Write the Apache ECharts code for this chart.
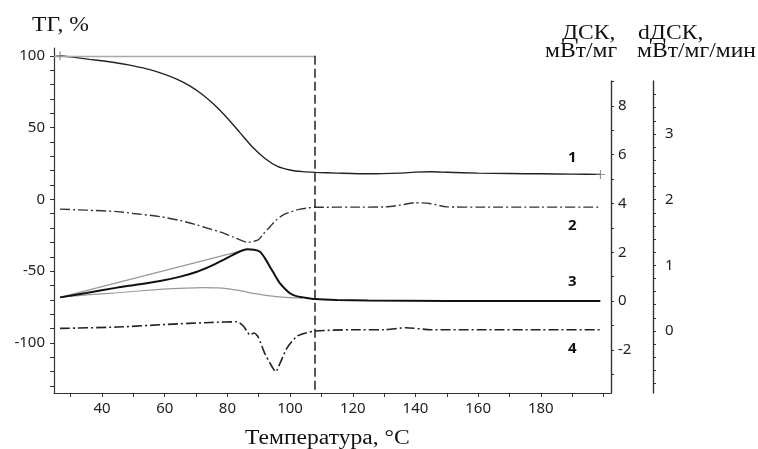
<!DOCTYPE html>
<html>
<head>
<meta charset="utf-8">
<style>
  html, body { margin: 0; padding: 0; background: #fff; }
  #chart { width: 758px; height: 449px; }
</style>
<script src="https://cdn.jsdelivr.net/npm/echarts@6/dist/echarts.min.js"></script>
</head>
<body>
<div id="chart"></div>
<script>
// curve 1 - TG, %
const tgTemp = [26.6, 30, 36, 40, 46.8, 50, 55, 60, 64, 68, 72, 76, 80, 84, 88, 92, 96, 100, 104, 108, 115, 125, 135, 140, 145, 150, 160, 170, 180, 190, 199]
const tgVal = [100, 99.2, 97.5, 96.5, 94.3, 93, 90.5, 87, 83.5, 79, 73, 65.5, 56.5, 46.5, 36.5, 28.5, 23, 20.5, 19.3, 18.8, 18.3, 17.8, 18.3, 19, 19.2, 18.9, 18.3, 18, 17.8, 17.6, 17.4]

// curve 2 - DTG (drawn on TG scale)
const dtgTemp = [26.6, 35, 44.8, 50, 58.5, 65, 70.3, 74, 78.6, 82, 86.3, 89.8, 91.5, 93.6, 95.5, 97.8, 100.5, 103.2, 108, 120, 130, 135, 140, 145, 150, 160, 180, 199]
const dtgVal = [-6.8, -7.5, -8.5, -9.8, -12, -14.8, -17.8, -20.3, -23.3, -26.3, -29.8, -28.2, -24, -19, -14.5, -10.8, -8.5, -6.8, -5.5, -5.4, -5.3, -4, -2.3, -3, -5.2, -5.4, -5.4, -5.4]

// curve 3 - DSC, mW/mg
const dscTemp = [26.6, 35, 44.8, 50, 58.5, 65, 70.3, 75, 78.6, 83.1, 86.3, 88.5, 90.4, 92, 93.6, 95.2, 96.8, 98.5, 100, 102, 104.2, 108, 115, 125, 150, 199]
const dscVal = [0.15, 0.33, 0.55, 0.65, 0.82, 1.0, 1.2, 1.45, 1.68, 1.98, 2.12, 2.1, 2.02, 1.75, 1.4, 1.05, 0.72, 0.48, 0.31, 0.2, 0.15, 0.08, 0.04, 0.02, 0, 0]

// grey construction lines on DSC
const tangentTemp = [26.6, 86.3]
const tangentVal = [0.15, 2.12]
const baseTemp = [26.6, 35, 44.8, 58.5, 65, 72, 77, 83.1, 89.3, 95.7, 100, 104.2]
const baseVal = [0.15, 0.25, 0.34, 0.48, 0.52, 0.55, 0.54, 0.45, 0.29, 0.18, 0.14, 0.12]

// curve 4 - dDSC, mW/mg/min
const ddscTemp = [26.6, 44.8, 60.7, 74.5, 83.1, 85.0, 86.2, 87.2, 88.5, 89.8, 91.9, 94.2, 95.4, 96.8, 99, 102.2, 105, 108, 120, 130, 137, 145, 160, 180, 199]
const ddscVal = [0.04, 0.06, 0.1, 0.13, 0.14, 0.08, 0.0, -0.06, -0.03, -0.09, -0.34, -0.54, -0.62, -0.49, -0.26, -0.08, -0.03, 0.0, 0.02, 0.02, 0.05, 0.02, 0.02, 0.02, 0.02]

const endTemp = 108

const xLabels = [40, 60, 80, 100, 120, 140, 160, 180]
const xTicks = [30, 40, 50, 60, 70, 80, 90, 100, 110, 120, 130, 140, 150, 160, 170, 180, 190, 200]
const tgLabels = [-100, -50, 0, 50, 100]
const tgTicks = [-130, -120, -110, -100, -90, -80, -70, -60, -50, -40, -30, -20, -10, 0, 10, 20, 30, 40, 50, 60, 70, 80, 90, 100]
const dscLabels = [-2, 0, 2, 4, 6, 8]
const dscTicks = [-3, -2, -1, 0, 1, 2, 3, 4, 5, 6, 7, 8, 9]
const ddscLabels = [0, 1, 2, 3]
const ddscTicks = [-0.8, -0.6, -0.4, -0.2, 0, 0.2, 0.4, 0.6, 0.8, 1, 1.2, 1.4, 1.6, 1.8, 2, 2.2, 2.4, 2.6, 2.8, 3, 3.2, 3.4, 3.6]

const X_MIN = 24.67, X_MAX = 202.4

const zip = (a, b) => a.map((v, i) => [v, b[i]])

const chart = echarts.init(document.getElementById('chart'))

const axisColor = '#333'
const labelFont = { fontFamily: 'Noto Sans', fontSize: 15, color: '#222' }
const plus = 'path://M0,4.5h10v1h-10z M4.5,0h1v10h-1z'

// serif captions, a bit wider than the plain font like in the scan
const caption = (text, left, top) => ({
  type: 'text',
  left: left,
  top: top,
  scaleX: 1.18,
  style: { text: text, font: '20px Liberation Serif', fill: '#111' },
})
const curveNo = (text, top) => ({
  type: 'text',
  left: 568,
  top: top,
  style: { text: text, font: 'bold 15px Noto Sans', fill: '#111' },
})

const xAxisBase = (gridIndex, show) => ({
  type: 'value',
  gridIndex: gridIndex,
  min: X_MIN,
  max: X_MAX,
  show: show,
  splitLine: { show: false },
  axisLine: { show: show, onZero: false, lineStyle: { color: axisColor, width: 1.2 } },
  axisTick: { show: show, customValues: xTicks, length: 4, lineStyle: { color: axisColor } },
  axisLabel: Object.assign({ show: show, customValues: xLabels, margin: 8 }, labelFont),
})

const option = {
  animation: false,
  grid: [
    { left: 54, right: 147, top: 48, bottom: 56 },
    { left: 54, right: 147, top: 81, bottom: 56 },
    { left: 54, right: 147, top: 81, bottom: 56 },
  ],
  xAxis: [xAxisBase(0, true), xAxisBase(1, false), xAxisBase(2, false)],
  yAxis: [
    {
      type: 'value',
      gridIndex: 0,
      min: -134.8,
      max: 105.4,
      position: 'left',
      splitLine: { show: false },
      axisLine: { show: true, onZero: false, lineStyle: { color: axisColor, width: 1.2 } },
      axisTick: { show: true, customValues: tgTicks, length: 4, lineStyle: { color: axisColor } },
      axisLabel: Object.assign({ customValues: tgLabels, margin: 9 }, labelFont),
    },
    {
      type: 'value',
      gridIndex: 1,
      min: -3.77,
      max: 9.02,
      position: 'right',
      splitLine: { show: false },
      axisLine: { show: true, onZero: false, lineStyle: { color: axisColor, width: 1.4 } },
      axisTick: { show: true, customValues: dscTicks, length: 3, lineStyle: { color: axisColor } },
      axisLabel: Object.assign({ customValues: dscLabels, margin: 7 }, labelFont),
    },
    {
      type: 'value',
      gridIndex: 2,
      min: -0.944,
      max: 3.807,
      position: 'right',
      offset: 42,
      splitLine: { show: false },
      axisLine: { show: true, onZero: false, lineStyle: { color: axisColor, width: 1.4 } },
      axisTick: { show: true, customValues: ddscTicks, length: 3, lineStyle: { color: axisColor } },
      axisLabel: Object.assign({ customValues: ddscLabels, margin: 12 }, labelFont),
    },
  ],
  series: [
    {
      name: 'ТГ',
      type: 'line',
      xAxisIndex: 0,
      yAxisIndex: 0,
      data: zip(tgTemp, tgVal),
      smooth: 0.25,
      showSymbol: false,
      lineStyle: { color: '#222', width: 1.4 },
      markPoint: {
        silent: true,
        symbol: plus,
        symbolSize: 9,
        itemStyle: { color: '#777' },
        label: { show: false },
        data: [
          { coord: [tgTemp[0], tgVal[0]] },
          { coord: [tgTemp[tgTemp.length - 1], tgVal[tgVal.length - 1]] },
        ],
      },
      markLine: {
        silent: true,
        symbol: 'none',
        label: { show: false },
        data: [
          [
            { coord: [X_MIN, 100], lineStyle: { color: '#aaa', width: 1.4, type: 'solid' } },
            { coord: [endTemp, 100] },
          ],
          [
            { coord: [endTemp, 100], lineStyle: { color: '#222', width: 1.5, type: [9, 4] } },
            { coord: [endTemp, -134.8] },
          ],
        ],
      },
    },
    {
      name: 'ДТГ',
      type: 'line',
      xAxisIndex: 0,
      yAxisIndex: 0,
      data: zip(dtgTemp, dtgVal),
      smooth: 0.25,
      showSymbol: false,
      lineStyle: { color: '#333', width: 1.4, type: [10, 3, 2, 3] },
    },
    {
      name: 'касательная',
      type: 'line',
      xAxisIndex: 1,
      yAxisIndex: 1,
      data: zip(tangentTemp, tangentVal),
      showSymbol: false,
      lineStyle: { color: '#999', width: 1.2 },
    },
    {
      name: 'базовая линия',
      type: 'line',
      xAxisIndex: 1,
      yAxisIndex: 1,
      data: zip(baseTemp, baseVal),
      smooth: 0.3,
      showSymbol: false,
      lineStyle: { color: '#999', width: 1.2 },
    },
    {
      name: 'ДСК',
      type: 'line',
      xAxisIndex: 1,
      yAxisIndex: 1,
      data: zip(dscTemp, dscVal),
      smooth: 0.25,
      showSymbol: false,
      lineStyle: { color: '#111', width: 2 },
    },
    {
      name: 'dДСК',
      type: 'line',
      xAxisIndex: 2,
      yAxisIndex: 2,
      data: zip(ddscTemp, ddscVal),
      smooth: 0.25,
      showSymbol: false,
      lineStyle: { color: '#222', width: 1.6, type: [10, 3, 2, 3] },
    },
  ],
  graphic: [
    caption('ТГ, %', 32, 16),
    caption('ДСК,', 562, 24),
    caption('мВт/мг', 545, 42),
    caption('dДСК,', 638, 24),
    caption('мВт/мг/мин', 637, 42),
    caption('Температура, °C', 245, 429),
    curveNo('1', 150),
    curveNo('2', 218),
    curveNo('3', 274),
    curveNo('4', 341),
  ],
}

chart.setOption(option)
</script>
</body>
</html>
